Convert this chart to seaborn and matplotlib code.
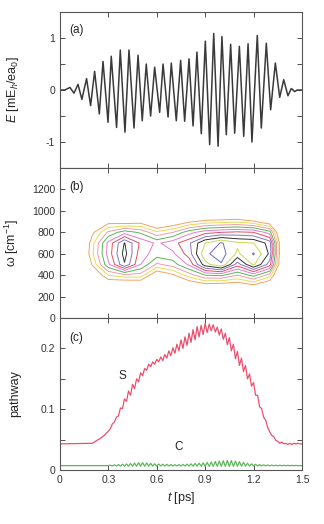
import numpy as np
import matplotlib
matplotlib.use('Agg')
import matplotlib.pyplot as plt
import seaborn as sns

# (a) laser field, extrema (t in ps, E in mEh/ea0)
e_time = [0.0, 0.03, 0.062, 0.087, 0.112, 0.136, 0.165, 0.190, 0.215, 0.244,
          0.267, 0.298, 0.318, 0.351, 0.374, 0.403, 0.428, 0.459, 0.484, 0.510,
          0.535, 0.562, 0.587, 0.618, 0.639, 0.670, 0.690, 0.721, 0.748, 0.773,
          0.800, 0.825, 0.849, 0.876, 0.901, 0.928, 0.953, 0.980, 1.004, 1.031,
          1.058, 1.083, 1.112, 1.139, 1.166, 1.190, 1.223, 1.248, 1.279, 1.306,
          1.335, 1.362, 1.387, 1.413, 1.434, 1.455, 1.47, 1.5]
e_field = [0.0, 0.0, 0.05, -0.06, 0.11, -0.18, 0.22, -0.30, 0.36, -0.46,
           0.55, -0.62, 0.65, -0.72, 0.77, -0.81, 0.77, -0.73, 0.67, -0.59,
           0.50, -0.50, 0.44, -0.43, 0.50, -0.52, 0.52, -0.59, 0.57, -0.60,
           0.60, -0.69, 0.73, -0.84, 0.94, -1.05, 1.09, -1.08, 1.03, -0.86,
           0.88, -0.83, 0.84, -0.89, 0.89, -1.00, 1.05, -0.73, 0.90, -0.38,
           0.52, -0.14, 0.20, -0.11, 0.03, -0.03, 0.0, 0.0]

# (b) time-frequency map on a coarse grid (rows = omega, cols = t)
t_grid = [0.0, 0.1, 0.2, 0.3, 0.4, 0.5, 0.6, 0.7, 0.8, 0.9, 1.0, 1.1, 1.2, 1.3, 1.4, 1.5]
w_grid = [200, 300, 400, 500, 600, 700, 800, 900, 1000, 1100]
z_table = [
    [0] * 16,
    [0, 0.0, 1.5, 3.5, 3.0, 3.2, 1.5, 2.2, 3.6, 4.2, 4.0, 4.0, 4.6, 3.5, 0.3, 0],
    [0, 0.5, 3.5, 6.0, 6.7, 6.6, 3.8, 4.8, 6.5, 8.0, 8.2, 7.0, 8.4, 6.5, 0.5, 0],
    [0, 1.5, 5.1, 8.8, 11.9, 9.0, 6.8, 7.5, 9.2, 12.6, 13.9, 10.5, 13.2, 10.5, 0.6, 0],
    [0, 2.0, 5.8, 9.4, 12.4, 9.4, 8.6, 8.8, 10.5, 13.8, 14.5, 12.8, 14.1, 11.8, 0.6, 0],
    [0, 1.8, 5.6, 9.3, 12.05, 9.8, 8.8, 9.6, 10.8, 13.0, 14.1, 13.2, 13.0, 11.6, 0.6, 0],
    [0, 1.0, 4.7, 7.2, 8.6, 7.8, 6.2, 7.0, 8.6, 9.6, 10.0, 10.2, 10.0, 8.5, 0.4, 0],
    [0, 0.3, 2.5, 4.5, 4.2, 4.5, 3.0, 3.8, 4.8, 5.4, 5.6, 5.8, 5.2, 4.0, 0.2, 0],
    [0, 0.0, 0.5, 1.5, 1.0, 1.2, 0.8, 1.0, 1.5, 2.0, 2.0, 2.0, 1.6, 1.0, 0.0, 0],
    [0] * 16,
]
levels = [5, 6, 7, 8, 9, 10, 11, 12, 13, 14]
level_colors = ['#f5a35e', '#e6dc52', '#f29aa8', '#55b855', '#e07ad2',
                '#e0505e', '#8474c8', '#333333', '#c9d654', '#7068c4']

# (c) pathway populations
s_time = np.concatenate([[0.0, 0.2, 0.25, 0.275], np.linspace(0.3, 1.5, 97)])
s_value = [0.043, 0.044, 0.052, 0.057,
           0.064, 0.068, 0.076, 0.079, 0.087, 0.089, 0.102, 0.101, 0.117, 0.113,
           0.130, 0.123, 0.141, 0.134, 0.150, 0.145, 0.160, 0.155, 0.167, 0.164,
           0.174, 0.170, 0.178, 0.174, 0.182, 0.178, 0.186, 0.180, 0.190, 0.184,
           0.196, 0.188, 0.201, 0.192, 0.207, 0.196, 0.214, 0.200, 0.219, 0.205,
           0.225, 0.210, 0.231, 0.214, 0.236, 0.219, 0.238, 0.223, 0.241, 0.226,
           0.240, 0.229, 0.239, 0.227, 0.235, 0.222, 0.232, 0.215, 0.225, 0.206,
           0.218, 0.196, 0.207, 0.183, 0.195, 0.172, 0.184, 0.162, 0.172, 0.150,
           0.158, 0.138, 0.144, 0.123, 0.123, 0.104, 0.101, 0.087, 0.082, 0.070,
           0.063, 0.057, 0.055, 0.049, 0.047, 0.044, 0.046, 0.043, 0.044,
           0.042, 0.044, 0.042, 0.044, 0.043, 0.044, 0.043, 0.043]
c_value = [0.0072, 0.0072, 0.0072, 0.0072,
           0.0072, 0.0080, 0.0068, 0.0085, 0.0066, 0.0090, 0.0065, 0.0095, 0.0064, 0.0100,
           0.0063, 0.0108, 0.0062, 0.0115, 0.0062, 0.0120, 0.0062, 0.0122, 0.0062, 0.0118,
           0.0063, 0.0110, 0.0064, 0.0103, 0.0065, 0.0098, 0.0066, 0.0095, 0.0066, 0.0093,
           0.0067, 0.0090, 0.0067, 0.0088, 0.0067, 0.0090, 0.0066, 0.0093, 0.0066, 0.0097,
           0.0065, 0.0102, 0.0064, 0.0108, 0.0063, 0.0112, 0.0062, 0.0118, 0.0061, 0.0125,
           0.0060, 0.0132, 0.0060, 0.0140, 0.0060, 0.0147, 0.0060, 0.0152, 0.0060, 0.0156,
           0.0060, 0.0155, 0.0061, 0.0148, 0.0062, 0.0138, 0.0063, 0.0125, 0.0064, 0.0112,
           0.0065, 0.0102, 0.0066, 0.0095, 0.0067, 0.0090, 0.0068, 0.0086, 0.0068, 0.0083,
           0.0069, 0.0081, 0.0069, 0.0080, 0.0069, 0.0079, 0.0070, 0.0078, 0.0070, 0.0077,
           0.0070, 0.0076, 0.0071, 0.0075, 0.0071, 0.0074, 0.0072]

sns.set_style('ticks')
plt.rcParams['font.family'] = ['Liberation Sans', 'DejaVu Sans']
plt.rcParams['mathtext.fontset'] = 'custom'
plt.rcParams['mathtext.rm'] = 'Liberation Sans'
plt.rcParams['mathtext.it'] = 'Liberation Sans:italic'

fig, axes = plt.subplots(3, 1, figsize=(3.24, 5.24), dpi=100, sharex=True,
                         gridspec_kw={'height_ratios': [156, 150, 152]})
fig.subplots_adjust(left=0.185, right=0.932, top=0.977, bottom=0.103, hspace=0)

# (a)
sns.lineplot(x=e_time, y=e_field, ax=axes[0], color='#3a3a3a', linewidth=1.1,
             solid_joinstyle='round')
axes[0].set_ylim(-1.5, 1.5)
axes[0].set_yticks([-1, -0.5, 0, 0.5, 1])
axes[0].set_yticklabels(['-1', '', '0', '', '1'])
axes[0].set_ylabel(r'$E$ [mE$_h$/ea$_0$]', fontsize=9)
axes[0].text(0.04, 0.885, '(a)', transform=axes[0].transAxes, va='center', fontsize=8.5)

# (b)
cs = axes[1].contour(t_grid, w_grid, np.array(z_table), levels=levels,
                     colors=level_colors, linewidths=0.7)
axes[1].set_ylim(0, 1400)
axes[1].set_yticks([0, 200, 400, 600, 800, 1000, 1200])
axes[1].set_ylabel('ω [cm$^{-1}$]', fontsize=9)
axes[1].text(0.04, 0.873, '(b)', transform=axes[1].transAxes, va='center', fontsize=8.5)

# (c)
sns.lineplot(x=s_time, y=s_value, ax=axes[2], color='#e8506e', linewidth=0.9)
sns.lineplot(x=s_time, y=c_value, ax=axes[2], color='#5cb85c', linewidth=0.9)
axes[2].set_ylim(0, 0.25)
axes[2].set_yticks([0, 0.05, 0.1, 0.15, 0.2])
axes[2].set_yticklabels(['0', '', '0.1', '', '0.2'])
axes[2].set_ylabel('pathway', fontsize=9)
axes[2].text(0.04, 0.868, '(c)', transform=axes[2].transAxes, va='center', fontsize=8.5)
axes[2].text(0.385, 0.154, 'S', ha='center', va='center', fontsize=8.5)
axes[2].text(0.733, 0.038, 'C', ha='center', va='center', fontsize=8.5)

axes[2].set_xlim(0, 1.5)
axes[2].set_xticks([0, 0.3, 0.6, 0.9, 1.2, 1.5])
axes[2].set_xticklabels(['0', '0.3', '0.6', '0.9', '1.2', '1.5'])
axes[2].set_xlabel(r'$t$ [ps]', fontsize=9)

for ax in axes:
    ax.tick_params(direction='in', top=True, right=True, length=3.5, width=0.6,
                   labelsize=7.5, colors='#333333')
    for sp in ax.spines.values():
        sp.set_linewidth(0.8)
        sp.set_color('#555555')
    ax.yaxis.set_label_coords(-0.16, 0.5)

plt.savefig('out.png', dpi=100)
